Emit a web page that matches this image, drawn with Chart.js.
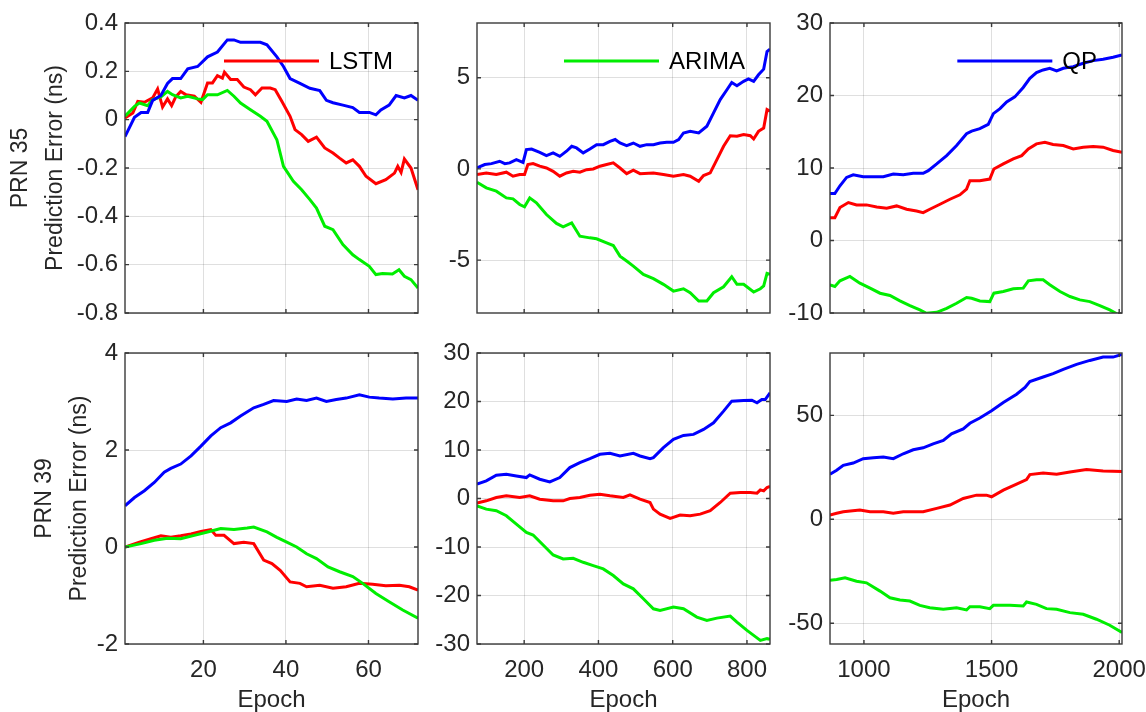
<!DOCTYPE html>
<html>
<head>
<meta charset="utf-8">
<script src="https://cdn.jsdelivr.net/npm/chart.js@4.4.1/dist/chart.umd.min.js"></script>
<style>
  html, body { margin: 0; padding: 0; background: #ffffff; width: 1146px; height: 712px; overflow: hidden; }
  canvas { position: absolute; }
</style>
</head>
<body>
<canvas id="c1" width="421" height="330" style="left:0px;top:0px"></canvas>
<canvas id="c2" width="352" height="330" style="left:421px;top:0px"></canvas>
<canvas id="c3" width="373" height="330" style="left:773px;top:0px"></canvas>
<canvas id="c4" width="421" height="382" style="left:0px;top:330px"></canvas>
<canvas id="c5" width="352" height="382" style="left:421px;top:330px"></canvas>
<canvas id="c6" width="373" height="382" style="left:773px;top:330px"></canvas>
<script>
// ---------------- DATA ----------------
const seriesNames = ['LSTM', 'ARIMA', 'QP'];
const rowLabels = ['PRN 35', 'PRN 39'];
const yAxisName = 'Prediction Error (ns)';
const xAxisName = 'Epoch';

// x-axis ranges & ticks (per epoch segment)
const xRange_s1 = [1, 72];
const xRange_s2 = [73, 862];
const xRange_s3 = [867, 2011];
const xTicks_s1 = [20, 40, 60];
const xTicks_s2 = [200, 400, 600, 800];
const xTicks_s3 = [1000, 1500, 2000];

// y-axis ranges & ticks
const yRange_p35s1 = [-0.8, 0.4];
const yTicks_p35s1 = [-0.8, -0.6, -0.4, -0.2, 0, 0.2, 0.4];
const yRange_p35s2 = [-7.9, 8];
const yTicks_p35s2 = [-5, 0, 5];
const yRange_p35s3 = [-10, 30];
const yTicks_p35s3 = [-10, 0, 10, 20, 30];
const yRange_p39s1 = [-2, 4];
const yTicks_p39s1 = [-2, 0, 2, 4];
const yRange_p39s2 = [-30, 30];
const yTicks_p39s2 = [-30, -20, -10, 0, 10, 20, 30];
const yRange_p39s3 = [-60, 80];
const yTicks_p39s3 = [-50, 0, 50];

// PRN 35, segment 1
const p35s1_lstm_x = [1,2.9,4.1,5.7,7.7,8.9,10.1,11.3,12.3,13.3,14.5,15.8,17.8,19.4,21.0,22.2,23.4,24.6,25.1,26.6,28.2,29.8,31.4,32.6,34.2,36.2,37.4,39.0,41.0,42.2,43.8,45.4,47.4,49.4,51.4,53.0,54.6,56.2,57.8,59.4,61.8,64.2,66.3,67.1,67.9,68.7,70.3,72];
const p35s1_lstm_y = [0.007,0.028,0.076,0.072,0.09,0.127,0.052,0.086,0.058,0.094,0.117,0.103,0.097,0.072,0.152,0.152,0.182,0.172,0.196,0.166,0.166,0.135,0.124,0.103,0.131,0.131,0.124,0.076,0.014,-0.041,-0.062,-0.09,-0.072,-0.117,-0.138,-0.159,-0.179,-0.166,-0.193,-0.234,-0.265,-0.248,-0.221,-0.193,-0.218,-0.163,-0.2,-0.29];
const p35s1_arima_x = [1,3.3,4.5,6.5,7.7,9.7,11.3,12.5,14.5,16.2,18.6,19.8,21.0,23.4,25.8,27.4,29.0,31.4,33.8,35.4,37.8,39.4,41.8,43.8,45.8,47.4,49.4,51.4,53.8,56.2,57.8,60.2,61.8,63.4,65.8,67.4,68.7,70.3,72];
const p35s1_arima_y = [0.014,0.055,0.069,0.058,0.083,0.094,0.117,0.103,0.09,0.097,0.086,0.083,0.103,0.103,0.121,0.097,0.069,0.041,0.014,-0.007,-0.083,-0.193,-0.255,-0.29,-0.331,-0.366,-0.441,-0.455,-0.517,-0.559,-0.579,-0.607,-0.641,-0.637,-0.639,-0.621,-0.648,-0.662,-0.697];
const p35s1_qp_x = [1,3.3,4.9,6.5,7.7,9.7,11.3,12.5,14.5,16.2,18.6,21,23.4,25.8,27.4,29,31.4,33.8,35.4,37.8,39.4,41,43.4,45.8,48.2,49.8,51.4,53.8,56.2,57.8,60.2,61.8,63,65,66.7,68.7,70.3,72];
const p35s1_qp_y = [-0.07,0.01,0.03,0.03,0.08,0.10,0.15,0.17,0.17,0.21,0.22,0.26,0.28,0.33,0.33,0.32,0.32,0.32,0.31,0.26,0.22,0.17,0.15,0.13,0.12,0.08,0.07,0.06,0.05,0.03,0.03,0.02,0.04,0.06,0.10,0.09,0.10,0.08];

// PRN 35, segment 2
const p35s2_lstm_x = [73,98,125,152,170,188,201,210,224,242,260,278,296,314,332,350,368,386,404,422,440,458,476,494,512,548,575,602,629,647,670,683,701,719,737,755,773,791,809,818,831,845,854,862];
const p35s2_lstm_y = [-0.31,-0.22,-0.31,-0.18,-0.40,-0.31,-0.31,0.24,0.29,0.15,0.05,-0.13,-0.40,-0.22,-0.13,-0.18,-0.04,0,0.15,0.24,0.33,0.05,-0.26,-0.07,-0.26,-0.22,-0.31,-0.40,-0.31,-0.40,-0.68,-0.36,-0.22,0.51,1.24,1.82,1.79,1.88,1.82,1.64,2.06,2.24,3.25,3.16];
const p35s2_arima_x = [73,98,125,152,170,188,201,215,233,260,287,305,328,350,377,395,422,440,458,476,494,521,548,575,602,629,647,670,692,710,737,759,773,791,818,836,845,854,862];
const p35s2_arima_y = [-0.73,-1.04,-1.22,-1.59,-1.64,-1.95,-2.08,-1.59,-1.86,-2.50,-2.99,-3.18,-2.96,-3.69,-3.78,-3.83,-4.05,-4.20,-4.78,-5.05,-5.33,-5.78,-6.02,-6.33,-6.70,-6.57,-6.79,-7.24,-7.24,-6.79,-6.46,-5.91,-6.33,-6.33,-6.75,-6.57,-6.42,-5.73,-5.78];
const p35s2_qp_x = [73,94,112,134,148,161,179,197,206,220,242,260,278,296,314,328,341,359,377,395,413,431,445,458,476,494,512,530,548,566,584,602,616,629,647,670,692,710,728,746,759,773,791,804,818,831,845,854,862];
const p35s2_qp_y = [0.05,0.24,0.29,0.42,0.29,0.33,0.51,0.36,1.06,1.09,0.91,0.73,0.88,0.69,0.97,1.24,1.15,0.88,1.09,1.33,1.33,1.51,1.61,1.42,1.28,1.42,1.24,1.33,1.33,1.42,1.46,1.46,1.61,1.97,2.06,1.97,2.34,3.07,3.80,4.34,4.74,4.56,4.80,4.93,4.80,5.16,5.47,6.44,6.57];

// PRN 35, segment 3
const p35s3_lstm_x = [867,886,906,939,971,1010,1050,1089,1128,1167,1206,1232,1258,1298,1337,1376,1402,1415,1454,1493,1509,1546,1585,1618,1644,1676,1709,1741,1781,1820,1859,1898,1937,1976,2011];
const p35s3_lstm_y = [3.15,3.15,4.54,5.23,4.91,4.91,4.63,4.44,4.77,4.31,4.07,3.84,4.31,5.00,5.69,6.30,7.08,8.24,8.24,8.47,9.86,10.56,11.25,11.71,12.64,13.33,13.56,13.24,13.10,12.64,12.87,12.96,12.87,12.41,12.18];
const p35s3_arima_x = [867,886,906,945,984,1024,1063,1102,1141,1180,1219,1245,1285,1324,1363,1402,1422,1454,1493,1509,1546,1585,1624,1644,1676,1702,1728,1768,1807,1846,1885,1924,1963,2011];
const p35s3_arima_y = [-6.11,-6.34,-5.56,-4.95,-5.88,-6.57,-7.27,-7.59,-8.33,-8.98,-9.58,-10.05,-9.91,-9.35,-8.66,-7.87,-7.96,-8.33,-8.43,-7.27,-7.04,-6.67,-6.57,-5.56,-5.42,-5.42,-6.11,-7.04,-7.73,-8.19,-8.43,-8.98,-9.58,-10.51];
const p35s3_qp_x = [867,886,906,932,958,997,1037,1076,1115,1154,1193,1232,1252,1285,1324,1363,1402,1422,1454,1487,1507,1533,1559,1591,1624,1650,1676,1702,1728,1755,1781,1820,1859,1898,1937,1976,2011];
const p35s3_qp_y = [6.48,6.48,7.55,8.70,9.07,8.80,8.80,8.80,9.17,9.07,9.26,9.26,9.63,10.56,11.71,13.10,14.72,15.09,15.42,16.02,17.50,18.19,19.12,19.81,21.11,22.36,23.15,23.52,23.75,23.38,23.75,23.98,24.44,24.81,25.00,25.28,25.60];

// PRN 39, segment 1
const p39s1_lstm_x = [1,4.5,7.3,9.7,12.1,14.5,17.0,19.4,21.8,23.0,25.0,27.4,29.8,32.2,34.6,36.6,38.6,41.0,43.4,45.0,48.2,51.4,54.6,57.8,61.0,64.2,67.5,69.9,72];
const p39s1_lstm_y = [0,0.10,0.17,0.23,0.20,0.23,0.27,0.32,0.36,0.24,0.24,0.07,0.10,0.07,-0.27,-0.34,-0.48,-0.72,-0.75,-0.82,-0.79,-0.85,-0.82,-0.75,-0.77,-0.80,-0.79,-0.82,-0.89];
const p39s1_arima_x = [1,4.9,8.1,11.3,14.5,17.8,21.0,24.2,27.4,30.6,32.2,35.4,37.8,40.2,42.6,45.0,47.4,50.2,53.0,56.2,58.6,61.8,65.0,68.3,72];
const p39s1_arima_y = [0,0.07,0.14,0.18,0.17,0.24,0.31,0.38,0.36,0.39,0.41,0.31,0.20,0.10,0,-0.14,-0.24,-0.41,-0.51,-0.61,-0.75,-0.96,-1.13,-1.30,-1.47];
const p39s1_qp_x = [1,3.3,5.7,8.1,10.5,12.1,14.5,17.0,19.4,21.8,24.2,26.6,29.0,32.2,34.6,37.0,40.2,42.6,45.0,47.4,49.8,52.2,54.6,57.8,60.2,62.6,65.9,69.1,72];
const p39s1_qp_y = [0.85,1.02,1.16,1.33,1.54,1.62,1.71,1.88,2.08,2.29,2.46,2.56,2.70,2.87,2.94,3.02,3.00,3.05,3.02,3.07,3.00,3.04,3.07,3.14,3.09,3.07,3.05,3.07,3.07];

// PRN 39, segment 2
const p39s2_lstm_x = [73,98,125,152,188,215,242,278,305,323,350,377,404,431,467,485,512,539,548,566,593,620,647,674,701,728,755,782,809,827,836,845,854,862];
const p39s2_lstm_y = [-0.96,-0.48,0.21,0.55,0.21,0.55,-0.14,-0.48,-0.48,0,0.21,0.68,0.89,0.55,0.21,0.75,-0.14,-0.82,-2.19,-3.22,-4.11,-3.42,-3.56,-3.22,-2.53,-0.82,1.10,1.23,1.23,1.10,1.78,1.58,2.26,2.47];
const p39s2_arima_x = [73,98,125,152,179,206,224,251,278,305,332,359,386,413,440,467,494,521,548,566,602,629,665,692,719,755,773,800,818,836,854,862];
const p39s2_arima_y = [-1.51,-2.19,-2.53,-3.56,-5.27,-6.99,-7.53,-9.59,-11.64,-12.47,-12.33,-13.15,-13.84,-14.52,-15.89,-17.60,-18.63,-20.68,-22.74,-23.08,-22.40,-22.74,-24.45,-25.14,-24.66,-24.25,-25.48,-27.19,-28.22,-29.25,-28.90,-29.04];
const p39s2_qp_x = [73,98,125,152,179,206,215,242,269,296,323,350,377,404,431,458,494,512,539,548,575,602,629,656,683,710,737,759,791,813,827,840,849,862];
const p39s2_qp_y = [2.95,3.63,4.79,5.00,4.66,4.32,4.86,3.97,3.42,4.32,6.37,7.40,8.22,9.11,9.32,8.77,9.32,8.77,8.22,8.42,10.48,12.19,13.01,13.22,14.25,15.62,18.01,20.07,20.21,20.27,19.73,20.41,20.41,21.78];

// PRN 39, segment 3
const p39s3_lstm_x = [867,893,919,984,1024,1076,1115,1154,1232,1285,1337,1389,1441,1480,1500,1546,1598,1637,1650,1702,1755,1807,1872,1937,2011];
const p39s3_lstm_y = [2.07,2.87,3.66,4.46,3.66,3.66,2.87,3.66,3.66,5.25,6.85,10.03,11.62,11.62,10.83,14.01,16.88,19.11,21.50,22.29,21.66,22.77,23.89,23.25,22.93];
const p39s3_arima_x = [867,893,926,971,1010,1063,1102,1141,1180,1219,1258,1311,1363,1402,1415,1454,1493,1507,1572,1624,1637,1676,1715,1755,1807,1859,1911,1963,2011];
const p39s3_arima_y = [-29.30,-28.98,-28.18,-29.78,-30.57,-34.55,-37.74,-38.85,-39.33,-41.40,-42.52,-43.31,-42.52,-43.63,-42.04,-42.04,-42.99,-41.40,-41.40,-41.72,-39.81,-40.92,-42.99,-43.31,-44.90,-45.70,-48.09,-50.96,-54.46];
const p39s3_qp_x = [867,893,919,958,997,1037,1076,1115,1154,1193,1232,1271,1311,1343,1389,1415,1454,1500,1546,1598,1631,1650,1702,1741,1781,1833,1885,1937,1976,2011];
const p39s3_qp_y = [21.66,23.57,25.96,27.07,29.14,29.62,29.94,29.14,31.53,33.44,34.39,36.31,37.90,41.08,43.47,46.18,48.73,52.23,56.21,60.19,63.38,66.24,68.47,70.06,72.13,74.52,76.43,78.03,78.03,79.30];

// ---------------- STYLE ----------------
const seriesColors = ['#ff0000', '#00ee00', '#0000ff'];
const FONT = '"Liberation Sans", Arial, Helvetica, sans-serif';
const TEXT_COLOR = '#262626';
const GRID_COLOR = 'rgba(38,38,38,0.15)';
const BOX_COLOR = '#3a3a3a';

Chart.defaults.font.family = FONT;
Chart.defaults.font.size = 24;
Chart.defaults.color = TEXT_COLOR;

// Axes box with inward tick marks (MATLAB style)
const boxPlugin = {
  id: 'matlabBox',
  afterDatasetsDraw(chart) {
    const { ctx, chartArea: a, scales } = chart;
    ctx.save();
    ctx.strokeStyle = BOX_COLOR;
    ctx.lineWidth = 1.4;
    ctx.strokeRect(a.left, a.top, a.right - a.left, a.bottom - a.top);
    const L = 4;
    ctx.beginPath();
    scales.x.ticks.forEach(t => {
      const px = scales.x.getPixelForValue(t.value);
      ctx.moveTo(px, a.bottom); ctx.lineTo(px, a.bottom - L);
      ctx.moveTo(px, a.top); ctx.lineTo(px, a.top + L);
    });
    scales.y.ticks.forEach(t => {
      const py = scales.y.getPixelForValue(t.value);
      ctx.moveTo(a.left, py); ctx.lineTo(a.left + L, py);
      ctx.moveTo(a.right, py); ctx.lineTo(a.right - L, py);
    });
    ctx.stroke();
    ctx.restore();
  }
};

// Inset legend with a single entry (one per top panel)
const insetLegendPlugin = {
  id: 'insetLegend',
  afterDatasetsDraw(chart, args, opts) {
    if (opts.index === undefined || opts.index === null) return;
    const ds = chart.data.datasets[opts.index];
    const { ctx, chartArea: a } = chart;
    ctx.save();
    ctx.font = '24px ' + FONT;
    const tw = ctx.measureText(ds.label).width;
    const textX = a.right - 25 - tw;
    const y = a.top + 38;
    ctx.strokeStyle = ds.borderColor;
    ctx.lineWidth = ds.borderWidth;
    ctx.beginPath();
    ctx.moveTo(textX - 10 - 95, y);
    ctx.lineTo(textX - 10, y);
    ctx.stroke();
    ctx.fillStyle = '#000000';
    ctx.textBaseline = 'middle';
    ctx.textAlign = 'left';
    ctx.fillText(ds.label, textX, y + 1);
    ctx.restore();
  }
};

function pts(xs, ys) { return xs.map((x, i) => ({ x: x, y: ys[i] })); }

function makeChart(id, p) {
  const datasets = p.series.map((s, i) => ({
    label: seriesNames[i],
    data: pts(s[0], s[1]),
    borderColor: seriesColors[i],
    backgroundColor: seriesColors[i],
    borderWidth: 3,
    pointRadius: 0,
    tension: 0,
    fill: false,
    order: 2 - i
  }));
  return new Chart(document.getElementById(id), {
    type: 'line',
    data: { datasets },
    plugins: [boxPlugin, insetLegendPlugin],
    options: {
      responsive: false,
      animation: false,
      events: [],
      layout: { padding: p.pad },
      plugins: {
        legend: { display: false },
        tooltip: { enabled: false },
        insetLegend: { index: p.legendIndex }
      },
      scales: {
        x: {
          type: 'linear',
          min: p.xRange[0], max: p.xRange[1],
          afterBuildTicks: sc => { sc.ticks = p.xTicks.map(v => ({ value: v })); },
          afterFit: sc => { sc.height = p.xH; sc.paddingLeft = 0; sc.paddingRight = 0; sc.paddingTop = 0; sc.paddingBottom = 0; },
          ticks: { display: p.showX, padding: 12, maxRotation: 0, autoSkip: false, callback: v => String(v), color: TEXT_COLOR },
          grid: { color: GRID_COLOR, lineWidth: 1, drawTicks: false },
          border: { display: false },
          title: { display: p.showX, text: xAxisName, padding: 0, font: { size: 24, lineHeight: 1 }, color: TEXT_COLOR }
        },
        y: {
          type: 'linear',
          min: p.yRange[0], max: p.yRange[1],
          afterBuildTicks: sc => { sc.ticks = p.yTicks.map(v => ({ value: v })); },
          afterFit: sc => { sc.width = p.yW; sc.paddingLeft = 0; sc.paddingRight = 0; sc.paddingTop = 0; sc.paddingBottom = 0; },
          ticks: { padding: 7, autoSkip: false, callback: v => String(v), color: TEXT_COLOR },
          grid: { color: GRID_COLOR, lineWidth: 1, drawTicks: false },
          border: { display: false },
          title: p.yTitle ? { display: true, text: p.yTitle, padding: { top: 3, bottom: 0 }, font: { size: 23, lineHeight: '35px' }, color: TEXT_COLOR } : { display: false }
        }
      }
    }
  });
}

makeChart('c1', {
  series: [[p35s1_lstm_x, p35s1_lstm_y], [p35s1_arima_x, p35s1_arima_y], [p35s1_qp_x, p35s1_qp_y]],
  xRange: xRange_s1, xTicks: xTicks_s1, yRange: yRange_p35s1, yTicks: yTicks_p35s1,
  pad: { left: 0, top: 23, right: 3, bottom: 0 }, yW: 125, xH: 17, showX: false,
  yTitle: [rowLabels[0], yAxisName], legendIndex: 0
});
makeChart('c2', {
  series: [[p35s2_lstm_x, p35s2_lstm_y], [p35s2_arima_x, p35s2_arima_y], [p35s2_qp_x, p35s2_qp_y]],
  xRange: xRange_s2, xTicks: xTicks_s2, yRange: yRange_p35s2, yTicks: yTicks_p35s2,
  pad: { left: 0, top: 23, right: 3, bottom: 0 }, yW: 56, xH: 17, showX: false,
  yTitle: null, legendIndex: 1
});
makeChart('c3', {
  series: [[p35s3_lstm_x, p35s3_lstm_y], [p35s3_arima_x, p35s3_arima_y], [p35s3_qp_x, p35s3_qp_y]],
  xRange: xRange_s3, xTicks: xTicks_s3, yRange: yRange_p35s3, yTicks: yTicks_p35s3,
  pad: { left: 0, top: 23, right: 24, bottom: 0 }, yW: 57, xH: 17, showX: false,
  yTitle: null, legendIndex: 2
});
makeChart('c4', {
  series: [[p39s1_lstm_x, p39s1_lstm_y], [p39s1_arima_x, p39s1_arima_y], [p39s1_qp_x, p39s1_qp_y]],
  xRange: xRange_s1, xTicks: xTicks_s1, yRange: yRange_p39s1, yTicks: yTicks_p39s1,
  pad: { left: 24, top: 23, right: 3, bottom: 0 }, yW: 101, xH: 68, showX: true,
  yTitle: [rowLabels[1], yAxisName], legendIndex: null
});
makeChart('c5', {
  series: [[p39s2_lstm_x, p39s2_lstm_y], [p39s2_arima_x, p39s2_arima_y], [p39s2_qp_x, p39s2_qp_y]],
  xRange: xRange_s2, xTicks: xTicks_s2, yRange: yRange_p39s2, yTicks: yTicks_p39s2,
  pad: { left: 0, top: 23, right: 3, bottom: 0 }, yW: 56, xH: 68, showX: true,
  yTitle: null, legendIndex: null
});
makeChart('c6', {
  series: [[p39s3_lstm_x, p39s3_lstm_y], [p39s3_arima_x, p39s3_arima_y], [p39s3_qp_x, p39s3_qp_y]],
  xRange: xRange_s3, xTicks: xTicks_s3, yRange: yRange_p39s3, yTicks: yTicks_p39s3,
  pad: { left: 0, top: 23, right: 24, bottom: 0 }, yW: 57, xH: 68, showX: true,
  yTitle: null, legendIndex: null
});
</script>
</body>
</html>
